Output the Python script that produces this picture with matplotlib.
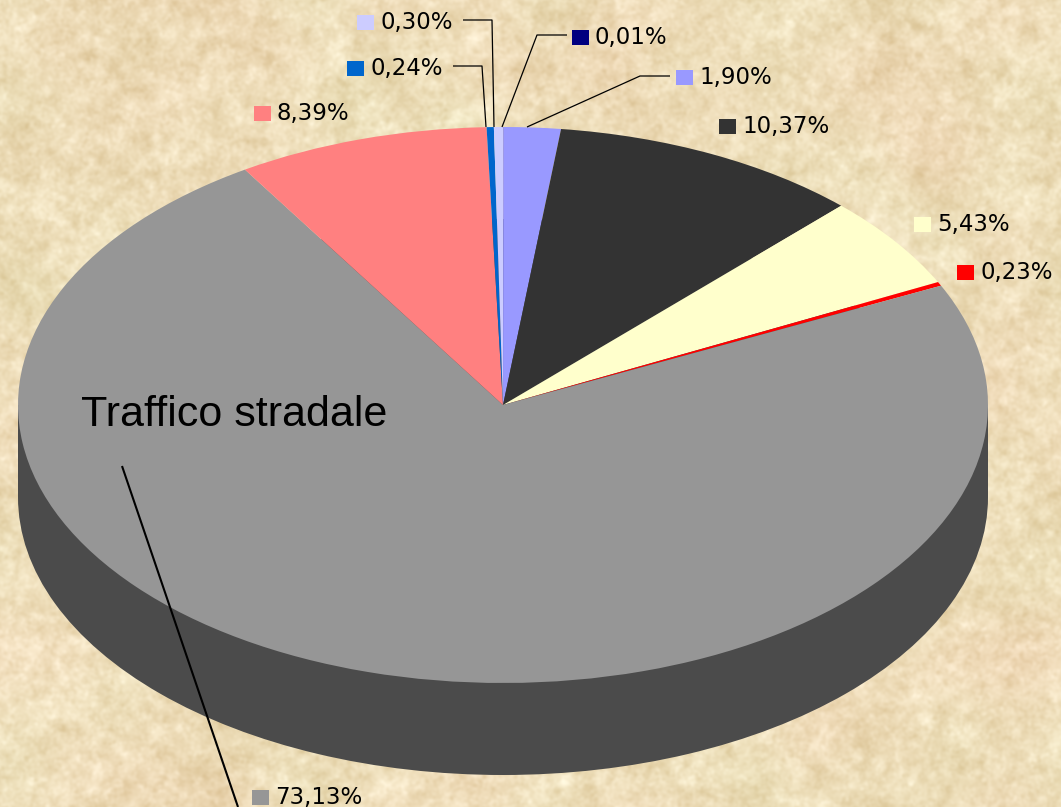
import numpy as np
import matplotlib
matplotlib.use('Agg')
import matplotlib.pyplot as plt
from matplotlib.patches import Rectangle

# slices, clockwise from 12 o'clock
labels = ["0,01%", "1,90%", "10,37%", "5,43%", "0,23%", "73,13%", "8,39%", "0,24%", "0,30%"]
values = [0.01, 1.90, 10.37, 5.43, 0.23, 73.13, 8.39, 0.24, 0.30]
colors = ['#000080', '#9999FF', '#333333', '#FFFFCC', '#FF0000', '#969696', '#FF8080', '#0066CC', '#CCCCFF']

W, H = 1061, 807
CX, CY, RX, RY, DEPTH = 503, 405, 485, 278, 92
WALL = '#4B4B4B'

# top left corner of each legend key, in pixels
key_pos = [(572, 30), (676, 70), (719, 119), (914, 217), (957, 265),
           (252, 790), (254, 106), (347, 61), (357, 15)]
# leader lines, in pixels
leaders = [[(567, 35), (537, 35), (502, 127)],
           [(670, 76), (640, 76), (527, 127)],
           [(453, 66), (482, 66), (486, 127)],
           [(463, 20), (492, 20), (494, 127)],
           [(122, 466), (238, 807)]]


def parchment():
    # mottled paper background, only decoration
    rng = np.random.default_rng(3)
    fy = np.fft.fftfreq(H)[:, None]
    fx = np.fft.rfftfreq(W)[None, :]
    tex = np.zeros((H, W))
    for sigma, amp in [(1.5, 0.55), (4, 0.7), (12, 0.45), (40, 0.25)]:
        kernel = np.exp(-2 * (np.pi * sigma) ** 2 * (fx ** 2 + fy ** 2))
        n = np.fft.irfft2(np.fft.rfft2(rng.normal(size=(H, W))) * kernel, s=(H, W))
        tex += amp * n / n.std()
    kernel = np.exp(-2 * (np.pi * 30) ** 2 * (fx ** 2 + fy ** 2))
    warm = np.fft.irfft2(np.fft.rfft2(rng.normal(size=(H, W))) * kernel, s=(H, W))
    tex /= tex.std()
    warm /= warm.std()
    base = np.array([238, 222, 186]) / 255.0
    slope = np.array([0.018, 0.024, 0.034])
    # some patches lean a little warmer, as in the paper scan
    pink = np.array([0.003, -0.004, -0.001])
    return np.clip(base + tex[..., None] * slope + warm[..., None] * pink, 0, 1)


fig = plt.figure(figsize=(W / 100, H / 100), dpi=100)
plt.rcParams['font.family'] = ['Liberation Sans', 'DejaVu Sans']

# pixel axes for background
bg = fig.add_axes([0, 0, 1, 1])
bg.imshow(parchment(), extent=(0, W, H, 0), aspect='auto', zorder=0)
bg.set_xlim(0, W)
bg.set_ylim(H, 0)
bg.axis('off')

# pie axes: one data unit is RX px across and RY px high, so the circle flattens
ax = fig.add_axes([0, 0, 1, 1], facecolor='none')
d = DEPTH / RY
ax.pie([1], colors=[WALL], center=(0, -d), radius=1, startangle=90)
ax.add_patch(Rectangle((-1, -d), 2, d, facecolor=WALL, edgecolor='none'))
ax.pie(values, colors=colors, startangle=90, counterclock=False, radius=1)
ax.set_aspect('auto')
ax.set_xlim(-CX / RX, (W - CX) / RX)
ax.set_ylim((CY - H) / RY, CY / RY)
ax.axis('off')

# overlay in pixels for keys, labels and leaders
top = fig.add_axes([0, 0, 1, 1], facecolor='none')
top.set_xlim(0, W)
top.set_ylim(H, 0)
top.axis('off')

for pts in leaders:
    xs, ys = zip(*pts)
    lw = 1.5 if len(pts) == 2 else 0.9
    top.plot(xs, ys, color='black', lw=lw, solid_capstyle='butt', clip_on=False)

for lab, col, (x, y) in zip(labels, colors, key_pos):
    top.add_patch(Rectangle((x, y), 17, 15, facecolor=col, edgecolor='none'))
    top.text(x + 23, y + 5, lab, fontsize=16.5, family=['DejaVu Sans'],
             va='center_baseline', ha='left', color='black')

top.text(81, 411, "Traffico stradale", fontsize=31, va='center_baseline', ha='left', color='black')

fig.savefig('out.png', dpi=100)
